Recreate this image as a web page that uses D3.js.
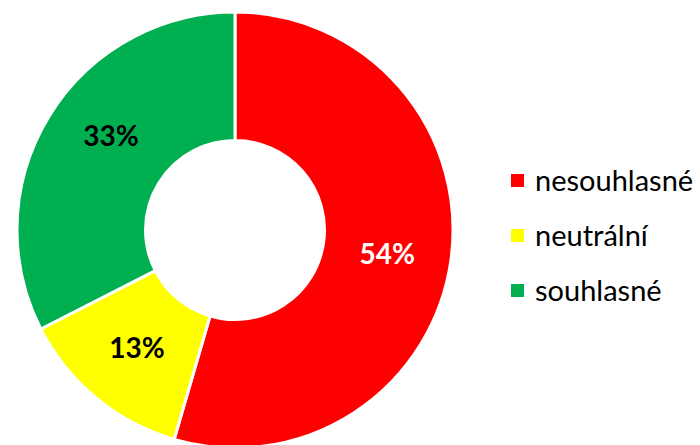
<!DOCTYPE html>
<html>
<head>
<meta charset="utf-8">
<script src="https://cdn.jsdelivr.net/npm/d3@7"></script>
<style>
  body { margin: 0; background: #fff; }
  text { font-family: Lato, "Open Sans", sans-serif; }
</style>
</head>
<body>
<div id="chart"></div>
<script>
// data
const categories = ["nesouhlasné", "neutrální", "souhlasné"];
const values = [54.5, 13, 32.5];
const labels = ["54%", "13%", "33%"];
const colors = ["#FF0000", "#FFFF00", "#00B050"];
const labelColors = ["#FFFFFF", "#000000", "#000000"];

const width = 700, height = 445;
const cx = 235, cy = 230;
const outerR = 218, innerR = 89.5;
// the green label sits a bit off its centroid in the original
const labelNudge = [[0, 3], [0, 0], [7, -13]];

const svg = d3.select("#chart")
  .append("svg")
  .attr("width", width)
  .attr("height", height);

const g = svg.append("g")
  .attr("transform", `translate(${cx},${cy})`);

const pie = d3.pie().sort(null).value(d => d);
const arc = d3.arc().innerRadius(innerR).outerRadius(outerR);
const arcs = pie(values);

g.selectAll("path.slice")
  .data(arcs)
  .join("path")
  .attr("class", "slice")
  .attr("d", arc)
  .attr("fill", (d, i) => colors[i])
  .attr("stroke", "#fff")
  .attr("stroke-width", 3);

// percentage labels at the arc centroids
g.selectAll("text.lbl")
  .data(arcs)
  .join("text")
  .attr("class", "lbl")
  .attr("transform", (d, i) => {
    const c = arc.centroid(d);
    return `translate(${c[0] + labelNudge[i][0]},${c[1] + labelNudge[i][1]})`;
  })
  .attr("text-anchor", "middle")
  .attr("dy", "0.35em")
  .attr("font-size", 28)
  .attr("font-weight", "bold")
  .attr("fill", (d, i) => labelColors[i])
  .text((d, i) => labels[i]);

// legend
const legend = svg.append("g")
  .attr("transform", "translate(511,181)");

const rowY = d3.scalePoint().domain(categories).range([0, 110]);

const item = legend.selectAll("g.item")
  .data(categories)
  .join("g")
  .attr("class", "item")
  .attr("transform", d => `translate(0,${rowY(d)})`);

item.append("rect")
  .attr("x", 0)
  .attr("y", -7)
  .attr("width", 13)
  .attr("height", 13)
  .attr("fill", (d, i) => colors[i]);

item.append("text")
  .attr("x", 24)
  .attr("dy", "0.35em")
  .attr("font-size", 29)
  .attr("fill", "#000")
  .text(d => d);
</script>
</body>
</html>
